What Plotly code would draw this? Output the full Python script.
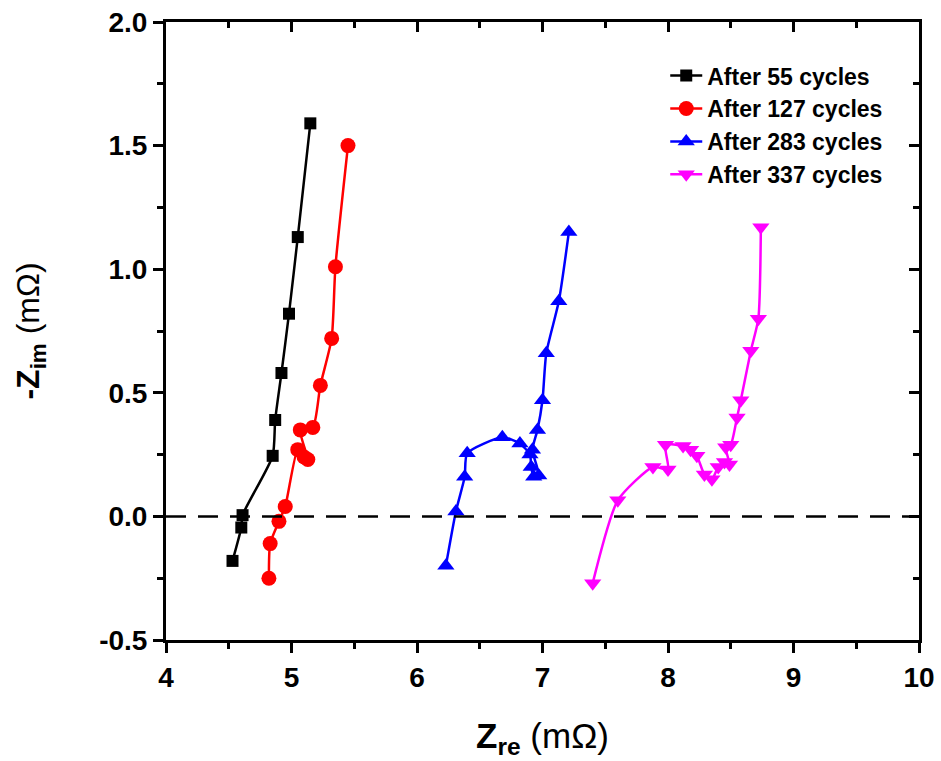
import plotly.graph_objects as go

# Nyquist data: real part (mOhm) and negative imaginary part (mOhm)
labels = ["After 55 cycles", "After 127 cycles", "After 283 cycles", "After 337 cycles"]

zre_55 = [4.53, 4.60, 4.61, 4.85, 4.87, 4.92, 4.98, 5.05, 5.15]
zim_55 = [-0.18, -0.045, 0.005, 0.245, 0.39, 0.58, 0.82, 1.13, 1.59]

zre_127 = [4.82, 4.83, 4.90, 4.95, 5.05, 5.10, 5.13, 5.07, 5.17, 5.23, 5.32, 5.35, 5.45]
zim_127 = [-0.25, -0.11, -0.02, 0.04, 0.27, 0.24, 0.23, 0.35, 0.36, 0.53, 0.72, 1.01, 1.50]

zre_283 = [6.23, 6.31, 6.38, 6.40, 6.68, 6.82, 6.90, 6.91, 6.93, 6.97, 6.92, 6.96, 7.00, 7.03, 7.13, 7.21]
zim_283 = [-0.20, 0.02, 0.16, 0.255, 0.32, 0.295, 0.25, 0.20, 0.16, 0.165, 0.27, 0.35, 0.47, 0.66, 0.87, 1.15]

zre_337 = [7.40, 7.60, 7.88, 8.00, 7.98, 8.12, 8.18, 8.23, 8.29, 8.35, 8.40, 8.45, 8.49, 8.46, 8.50,
           8.55, 8.58, 8.66, 8.72, 8.74]
zim_337 = [-0.27, 0.065, 0.20, 0.19, 0.29, 0.285, 0.27, 0.245, 0.17, 0.15, 0.20, 0.22, 0.21, 0.28, 0.29,
           0.40, 0.47, 0.67, 0.80, 1.17]

x_ticks = [4, 5, 6, 7, 8, 9, 10]
x_minor = [4.5, 5.5, 6.5, 7.5, 8.5, 9.5]
y_ticks = [-0.5, 0.0, 0.5, 1.0, 1.5, 2.0]
y_ticktext = ["-0.5", "0.0", "0.5", "1.0", "1.5", "2.0"]
y_minor = [-0.25, 0.25, 0.75, 1.25, 1.75]

colors = ["#000000", "#ff0000", "#0000ff", "#ff00ff"]
symbols = ["square", "circle", "triangle-up", "triangle-down"]
sizes = [12, 15, 15, 15]

series = [(zre_55, zim_55), (zre_127, zim_127), (zre_283, zim_283), (zre_337, zim_337)]

FONT = "Arial, Liberation Sans, sans-serif"

fig = go.Figure()
for (xs, ys), name, c, s, sz in zip(series, labels, colors, symbols, sizes):
    fig.add_trace(go.Scatter(
        x=xs, y=ys, name=name, mode="lines+markers",
        line=dict(color=c, width=2.5, shape="spline", smoothing=0.6),
        marker=dict(color=c, symbol=s, size=sz, line=dict(width=0)),
    ))

# empty trace that carries the mirrored top/right frame axes
fig.add_trace(go.Scatter(x=[], y=[], xaxis="x2", yaxis="y2", showlegend=False, hoverinfo="skip"))

# zero reference line
fig.add_hline(y=0, line=dict(color="black", width=2.5, dash="20px,12px"))

x_range = [4, 10]
y_range = [-0.5, 2.0]
tick_font = dict(family=FONT, size=28, color="black", weight="bold")

frame = dict(showline=True, linewidth=3, linecolor="black", showgrid=False, zeroline=False)

fig.update_layout(
    width=941, height=761,
    margin=dict(l=166, r=22, t=22, b=121),
    paper_bgcolor="white", plot_bgcolor="white",
    showlegend=True,
    legend=dict(
        x=0.663, y=0.948, xanchor="left", yanchor="top",
        bgcolor="rgba(0,0,0,0)", borderwidth=0,
        font=dict(family=FONT, size=23, color="black", weight="bold"),
        itemwidth=32, tracegroupgap=0,
    ),
    xaxis=dict(
        range=x_range, tickvals=x_ticks, automargin=False,
        ticks="outside", ticklen=10, tickwidth=3, tickcolor="black",
        minor=dict(tickvals=x_minor, ticks="outside", ticklen=6, tickwidth=3, tickcolor="black"),
        tickfont=tick_font,
        title=dict(text="<b>Z<sub>re</sub></b> (mΩ)", font=dict(family=FONT, size=35, color="black"),
                   standoff=32),
        **frame,
    ),
    yaxis=dict(
        range=y_range, tickvals=y_ticks, ticktext=y_ticktext, automargin=False,
        ticks="outside", ticklen=10, tickwidth=3, tickcolor="black",
        minor=dict(tickvals=y_minor, ticks="outside", ticklen=6, tickwidth=3, tickcolor="black"),
        tickfont=tick_font,
        title=dict(text="<b>-Z<sub>im</sub></b> (mΩ)", font=dict(family=FONT, size=32, color="black"),
                   standoff=50),
        **frame,
    ),
    xaxis2=dict(
        overlaying="x", side="top", range=x_range, tickvals=x_ticks, automargin=False,
        ticks="inside", ticklen=10, tickwidth=3, tickcolor="black", showticklabels=False,
        minor=dict(tickvals=x_minor, ticks="inside", ticklen=6, tickwidth=3, tickcolor="black"),
        **frame,
    ),
    yaxis2=dict(
        overlaying="y", side="right", range=y_range, tickvals=y_ticks, automargin=False,
        ticks="inside", ticklen=10, tickwidth=3, tickcolor="black", showticklabels=False,
        minor=dict(tickvals=y_minor, ticks="inside", ticklen=6, tickwidth=3, tickcolor="black"),
        **frame,
    ),
)

fig.write_html("out.html")
